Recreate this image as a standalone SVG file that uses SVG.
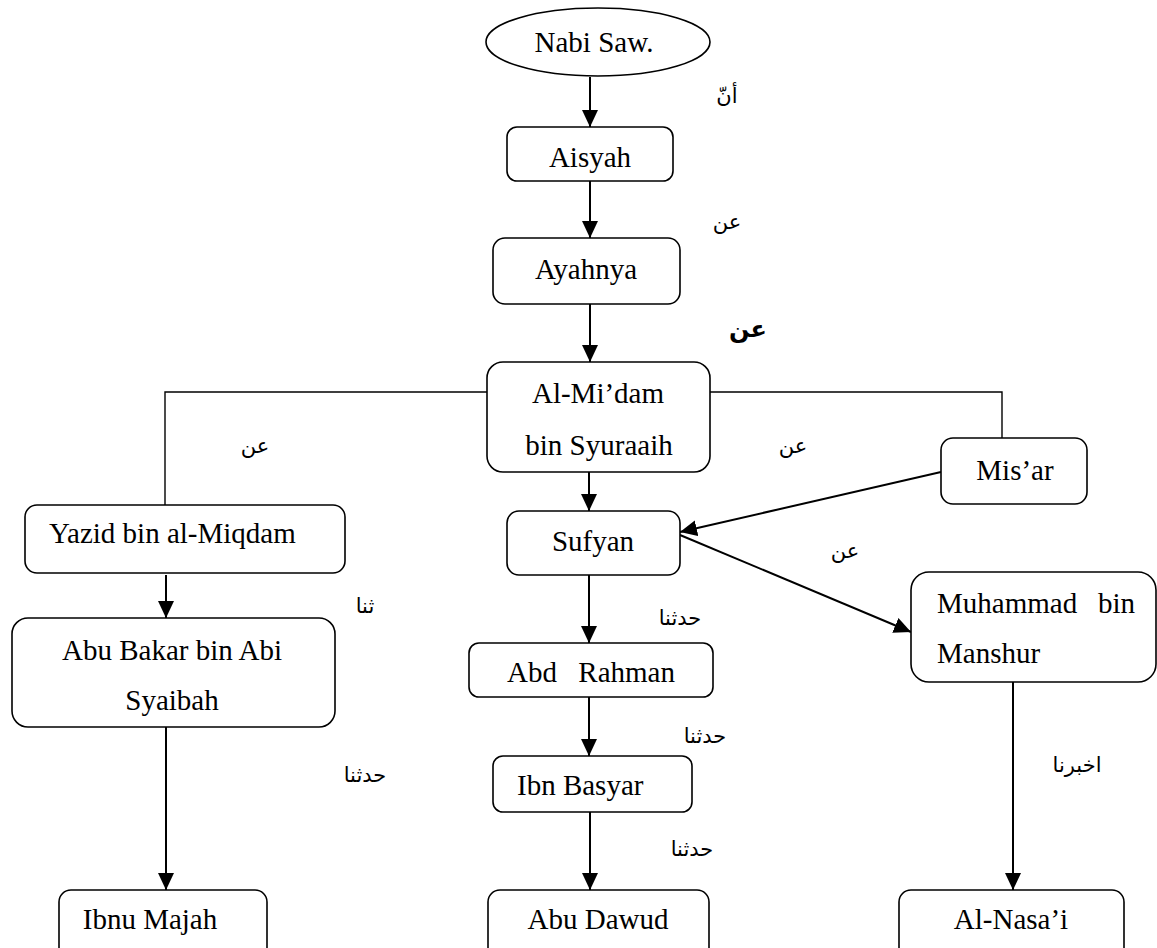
<svg xmlns="http://www.w3.org/2000/svg" width="1157" height="948" viewBox="0 0 1157 948">
<defs>
<style>
.box{fill:#fff;stroke:#000;stroke-width:1.6}
.t{font-family:"Liberation Serif","Times New Roman",serif;font-size:29px;fill:#000}
.c{text-anchor:middle}
.ar{font-family:"DejaVu Sans","Noto Sans",sans-serif;font-size:21px;fill:#000;text-anchor:middle}
.ln{fill:none;stroke:#000;stroke-width:1.4}
.ar2{fill:none;stroke:#000;stroke-width:2;marker-end:url(#ah)}
</style>
<marker id="ah" markerUnits="userSpaceOnUse" markerWidth="17" markerHeight="16" refX="17" refY="8" orient="auto">
<path d="M0,0 L17,8 L0,16 z" fill="#000"/>
</marker>
</defs>
<rect width="1157" height="948" fill="#fff"/>
<g id="connectors">
<path class="ar2" d="M590,77 L590,127"/>
<path class="ar2" d="M590,181 L590,238"/>
<path class="ar2" d="M590,304 L590,362"/>
<path class="ln" d="M487,392 L165,392 L165,505"/>
<path class="ln" d="M710,392 L1002,392 L1002,438"/>
<path class="ar2" d="M589,472 L589,511"/>
<path class="ar2" d="M941,472 L680,532"/>
<path class="ar2" d="M680,535 L911,632"/>
<path class="ar2" d="M166,575 L166,618"/>
<path class="ar2" d="M589,575 L589,643"/>
<path class="ar2" d="M589,697 L589,756"/>
<path class="ar2" d="M590,812 L590,890"/>
<path class="ar2" d="M166,727 L166,890"/>
<path class="ar2" d="M1013,682 L1013,890"/>
</g>
<g id="labels">
<text class="ar" x="727" y="103">أنّ</text>
<text class="ar" x="727" y="229">عن</text>
<text class="ar" x="748" y="337" style="font-size:24px;font-weight:bold">عن</text>
<text class="ar" x="255" y="453">عن</text>
<text class="ar" x="793" y="453">عن</text>
<text class="ar" x="845" y="558">عن</text>
<text class="ar" x="365" y="613">ثنا</text>
<text class="ar" x="680" y="625">حدثنا</text>
<text class="ar" x="705" y="743">حدثنا</text>
<text class="ar" x="692" y="856">حدثنا</text>
<text class="ar" x="365" y="782">حدثنا</text>
<text class="ar" x="1077" y="772">اخبرنا</text>
</g>
<g id="nabi">
<ellipse class="box" cx="598" cy="42" rx="112" ry="34"/>
<text class="t c" x="594" y="52">Nabi Saw.</text>
</g>
<g id="aisyah">
<rect class="box" x="507" y="127" width="166" height="54" rx="10"/>
<text class="t c" x="590" y="167">Aisyah</text>
</g>
<g id="ayahnya">
<rect class="box" x="493" y="238" width="187" height="66" rx="12"/>
<text class="t c" x="586" y="279">Ayahnya</text>
</g>
<g id="almidam">
<rect class="box" x="487" y="362" width="223" height="110" rx="16"/>
<text class="t c" x="598" y="403">Al-Mi’dam</text>
<text class="t c" x="599" y="455">bin Syuraaih</text>
</g>
<g id="misar">
<rect class="box" x="941" y="438" width="146" height="66" rx="12"/>
<text class="t c" x="1015" y="480">Mis’ar</text>
</g>
<g id="yazid">
<rect class="box" x="25" y="505" width="320" height="68" rx="12"/>
<text class="t" x="49" y="543">Yazid bin al-Miqdam</text>
</g>
<g id="sufyan">
<rect class="box" x="507" y="511" width="173" height="64" rx="12"/>
<text class="t c" x="593" y="551">Sufyan</text>
</g>
<g id="muhammad">
<rect class="box" x="911" y="572" width="245" height="110" rx="18"/>
<text class="t" x="937" y="613">Muhammad</text>
<text class="t" x="1135" y="613" text-anchor="end">bin</text>
<text class="t" x="937" y="663">Manshur</text>
</g>
<g id="abubakar">
<rect class="box" x="12" y="618" width="323" height="109" rx="16"/>
<text class="t c" x="172" y="660">Abu Bakar bin Abi</text>
<text class="t c" x="172" y="710">Syaibah</text>
</g>
<g id="abdrahman">
<rect class="box" x="469" y="643" width="244" height="54" rx="10"/>
<text class="t" x="507" y="682">Abd</text>
<text class="t" x="675" y="682" text-anchor="end">Rahman</text>
</g>
<g id="ibnbasyar">
<rect class="box" x="493" y="756" width="199" height="56" rx="10"/>
<text class="t" x="517" y="795">Ibn Basyar</text>
</g>
<g id="ibnumajah">
<rect class="box" x="59" y="890" width="208" height="70" rx="12"/>
<text class="t c" x="150" y="929">Ibnu Majah</text>
</g>
<g id="abudawud">
<rect class="box" x="488" y="890" width="221" height="70" rx="12"/>
<text class="t c" x="598" y="929">Abu Dawud</text>
</g>
<g id="alnasai">
<rect class="box" x="899" y="890" width="225" height="70" rx="12"/>
<text class="t c" x="1011" y="929">Al-Nasa’i</text>
</g>
</svg>
